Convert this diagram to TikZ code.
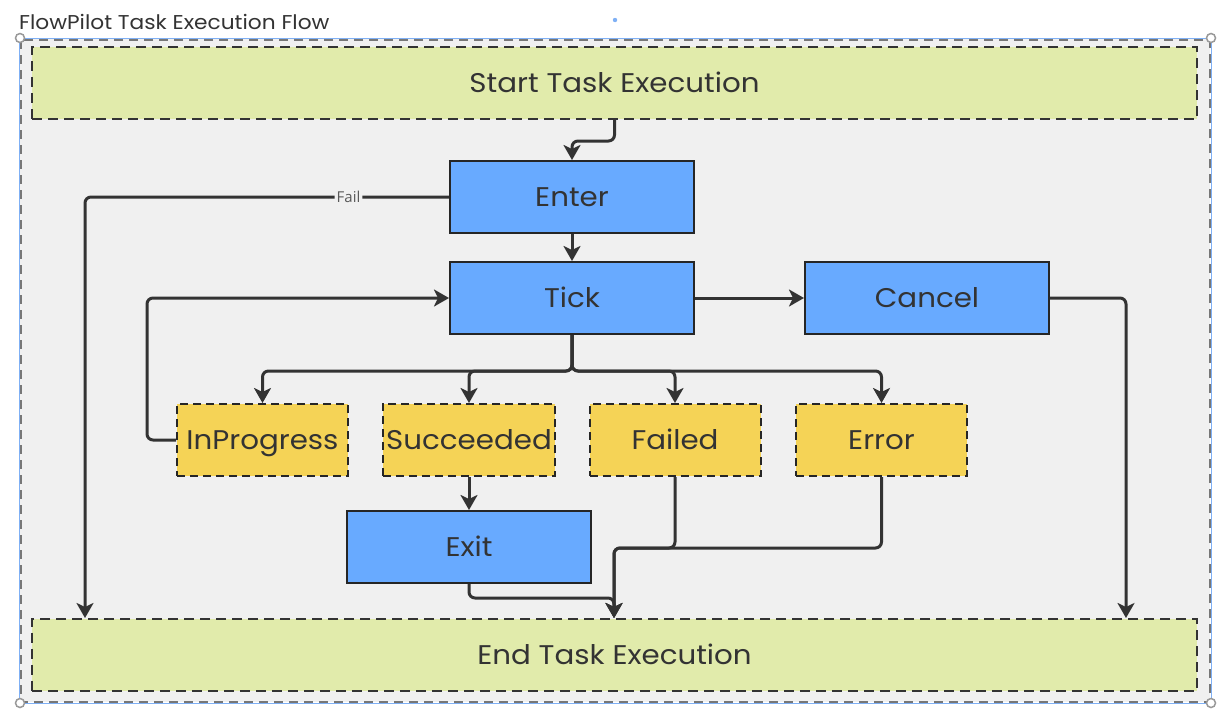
\documentclass[tikz,border=0pt]{standalone}
\usepackage{fontspec}
\setmainfont{Poppins}[FakeStretch=1.085]
\newfontfamily\lblfont{Open Sans}
\usetikzlibrary{arrows.meta}
\definecolor{bg}{HTML}{F0F0F0}
\definecolor{lime}{HTML}{E1EBAB}
\definecolor{blu}{HTML}{68AAFF}
\definecolor{yel}{HTML}{F5D356}
\definecolor{ink}{HTML}{333333}
\definecolor{frameg}{HTML}{777777}
\definecolor{selblue}{HTML}{7FB0F5}
\tikzset{
  big/.style={font=\fontsize{27}{32}\selectfont, text=ink, text height=19pt, text depth=0pt},
  band/.style={big, draw=ink, line width=2pt, dash pattern=on 10pt off 6pt, fill=lime,
    minimum width=1165pt, minimum height=72pt},
  proc/.style={big, draw=black!85, line width=2pt, fill=blu, minimum width=244pt, minimum height=72pt},
  status/.style={big, draw=black!85, line width=2pt, dash pattern=on 8pt off 5pt, fill=yel,
    minimum width=171pt, minimum height=72pt},
  conn/.style={draw=ink, line width=3pt, rounded corners=6pt,
    -{Stealth[length=15pt,width=17pt,inset=4pt]}},
  lbl/.style={fill=bg, inner sep=2pt, font=\lblfont\fontsize{15}{17}\selectfont, text=black!65},
  handle/.style={draw=black!40, fill=white, line width=1.5pt}
}
\begin{document}
\begin{tikzpicture}[x=1pt,y=-1pt]
\useasboundingbox (0,0) rectangle (1228,721);
\fill[white] (0,0) rectangle (1228,721);
% title
\node[anchor=base west, font=\fontsize{20}{24}\selectfont, text=ink, inner sep=0pt] (title) at (19,29) {FlowPilot Task Execution Flow};
\fill[selblue] (615,20) circle (2.2);
% container
\fill[bg] (20,39) rectangle (1210,702);
\draw[selblue, line width=1pt] (19.5,38.5) rectangle (1211,703);
\draw[frameg, line width=2.5pt, dash pattern=on 9pt off 6pt] (21,40) rectangle (1210,702);
% bands
\node[band] (start) at (614.5,83) {Start Task Execution};
\node[band] (endb) at (614.5,654.5) {End Task Execution};
% process nodes
\node[proc] (enter) at (572,197) {Enter};
\node[proc] (tick) at (572,298) {Tick};
\node[proc] (cancel) at (927,298) {Cancel};
\node[proc] (exit) at (469,547) {Exit};
% status nodes
\node[status] (inprog) at (262.5,440) {InProgress};
\node[status] (succ) at (469,440) {Succeeded};
\node[status] (failed) at (675,440) {Failed};
\node[status] (error) at (881.5,440) {Error};
% free ends
\coordinate (failx) at (85,618);
\coordinate (cancelx) at (1126,618);
\coordinate (merge) at (614,618);
% connectors
\draw[conn] (start.south) -- ++(0,21) -| (enter.north);
\draw[conn] (enter.south) -- (tick.north);
\draw[conn] (enter.west) -| node[lbl, pos=0.138] (faillbl) {Fail} (failx);
\draw[conn] (tick.east) -- (cancel.west);
\draw[conn] (cancel.east) -| (cancelx);
\draw[conn] (tick.south) -- ++(0,36) -| (inprog.north);
\draw[conn] (tick.south) -- ++(0,36) -| (succ.north);
\draw[conn] (tick.south) -- ++(0,36) -| (failed.north);
\draw[conn] (tick.south) -- ++(0,36) -| (error.north);
\draw[conn] (inprog.west) -- ++(-29,0) |- (tick.west);
\draw[conn] (succ.south) -- (exit.north);
\draw[conn] (failed.south) -- ++(0,71) -| (merge);
\draw[conn] (error.south) -- ++(0,71) -| (merge);
\draw[conn] (exit.south) -- ++(0,14) -| (merge);
% selection handles
\foreach \p in {(20,38),(1211,38),(20,703),(1211,703)} \draw[handle] \p circle (4.5);
\end{tikzpicture}
\end{document}
